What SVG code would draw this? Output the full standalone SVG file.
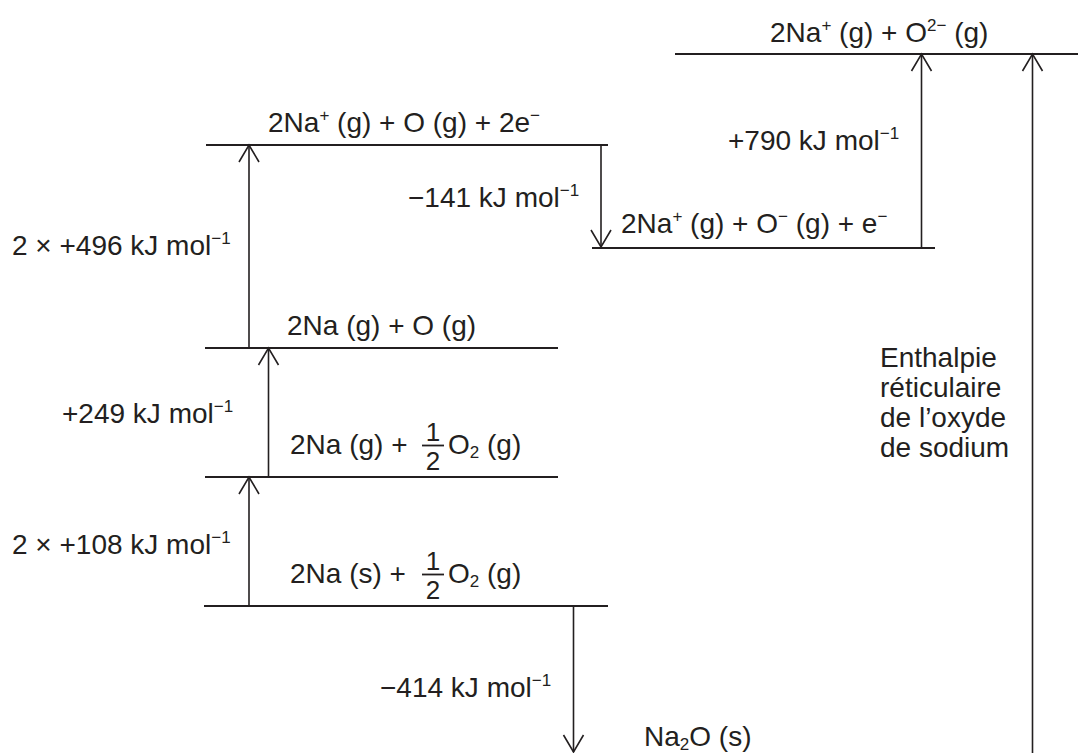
<svg xmlns="http://www.w3.org/2000/svg" width="1081" height="753" viewBox="0 0 1081 753">
<defs>
<style>
text{font-family:"Liberation Sans",Arial,sans-serif;font-size:28px;fill:#231f20}
.sup{font-size:17px}
.sub{font-size:17px}
.frac{font-size:26px}
.lvl{stroke:#231f20;stroke-width:2}
.bar{stroke:#231f20;stroke-width:1.8}
.arr{stroke:#231f20;stroke-width:1.6;fill:none;marker-end:url(#ah)}
</style>
<marker id="ah" markerUnits="userSpaceOnUse" orient="auto" markerWidth="20" markerHeight="20" refX="0" refY="0" overflow="visible">
<path d="M-17,-10 L0,0 L-17,10" fill="none" stroke="#231f20" stroke-width="1.6"/>
</marker>
</defs>
<rect width="1081" height="753" fill="#fff"/>

<g id="level-ions-O2">
<line class="lvl" x1="675" y1="54" x2="1078" y2="54"/>
<text x="770" y="42">2Na<tspan class="sup" dy="-11">+</tspan><tspan dy="11"> (g) + O</tspan><tspan class="sup" dy="-11">2−</tspan><tspan dy="11"> (g)</tspan></text>
</g>

<g id="level-ions-O">
<line class="lvl" x1="206" y1="145" x2="608" y2="145"/>
<text x="268" y="132">2Na<tspan class="sup" dy="-11">+</tspan><tspan dy="11"> (g) + O (g) + 2e</tspan><tspan class="sup" dy="-11">−</tspan></text>
</g>

<g id="level-ions-Ominus">
<line class="lvl" x1="592" y1="248" x2="935" y2="248"/>
<text x="621" y="233">2Na<tspan class="sup" dy="-11">+</tspan><tspan dy="11"> (g) + O</tspan><tspan class="sup" dy="-11">−</tspan><tspan dy="11"> (g) + e</tspan><tspan class="sup" dy="-11">−</tspan></text>
</g>

<g id="level-atoms">
<line class="lvl" x1="205" y1="348" x2="558" y2="348"/>
<text x="287" y="335">2Na (g) + O (g)</text>
</g>

<g id="level-Na-gas">
<line class="lvl" x1="205" y1="477" x2="558" y2="477"/>
<text x="290" y="454">2Na (g) +</text>
<text class="frac" x="433" y="441" text-anchor="middle">1</text>
<line class="bar" x1="422" y1="445.5" x2="444" y2="445.5"/>
<text class="frac" x="433" y="470" text-anchor="middle">2</text>
<text x="448" y="454">O<tspan class="sub" dy="4">2</tspan><tspan dy="-4"> (g)</tspan></text>
</g>

<g id="level-elements">
<line class="lvl" x1="204" y1="606" x2="608" y2="606"/>
<text x="290" y="583">2Na (s) +</text>
<text class="frac" x="433" y="570" text-anchor="middle">1</text>
<line class="bar" x1="422" y1="574.5" x2="444" y2="574.5"/>
<text class="frac" x="433" y="599" text-anchor="middle">2</text>
<text x="448" y="583">O<tspan class="sub" dy="4">2</tspan><tspan dy="-4"> (g)</tspan></text>
</g>

<g id="product">
<text x="644" y="746">Na<tspan class="sub" dy="4">2</tspan><tspan dy="-4">O (s)</tspan></text>
</g>

<g id="connectors">
<line class="arr" x1="249" y1="348" x2="249" y2="145"/>
<line class="arr" x1="268.5" y1="477" x2="268.5" y2="348"/>
<line class="arr" x1="249" y1="606" x2="249" y2="477"/>
<line class="arr" x1="601" y1="145" x2="601" y2="247"/>
<line class="arr" x1="921.5" y1="248" x2="921.5" y2="54"/>
<line class="arr" x1="1032.5" y1="753" x2="1032.5" y2="54"/>
<line class="arr" x1="573.5" y1="606" x2="573.5" y2="752"/>

<text x="12" y="255">2 × +496 kJ mol<tspan class="sup" dy="-11">−1</tspan></text>
<text x="62" y="423">+249 kJ mol<tspan class="sup" dy="-11">−1</tspan></text>
<text x="12" y="554">2 × +108 kJ mol<tspan class="sup" dy="-11">−1</tspan></text>
<text x="408" y="207">−141 kJ mol<tspan class="sup" dy="-11">−1</tspan></text>
<text x="728" y="150">+790 kJ mol<tspan class="sup" dy="-11">−1</tspan></text>
<text x="380" y="697">−414 kJ mol<tspan class="sup" dy="-11">−1</tspan></text>
<text x="880" y="367">Enthalpie</text>
<text x="880" y="397">réticulaire</text>
<text x="880" y="427">de l’oxyde</text>
<text x="880" y="457">de sodium</text>
</g>
</svg>
